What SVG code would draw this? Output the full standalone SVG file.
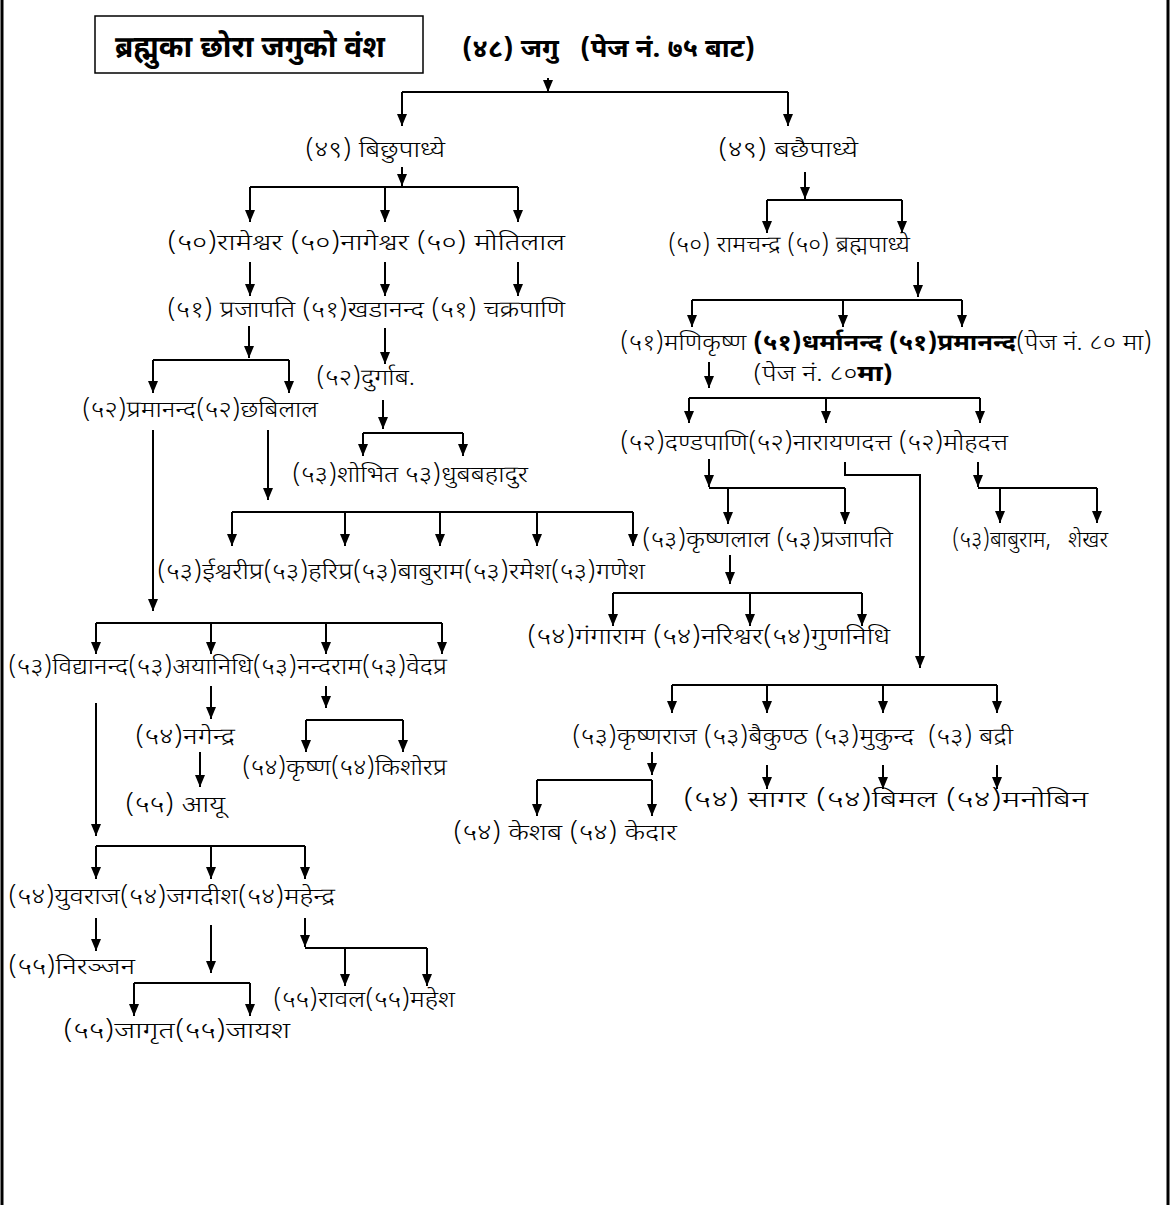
<svg xmlns="http://www.w3.org/2000/svg" width="1171" height="1205" viewBox="0 0 1171 1205">
<defs>
<marker id="ah" viewBox="0 0 12 10" refX="12" refY="5" markerWidth="12" markerHeight="10" markerUnits="userSpaceOnUse" orient="auto"><path d="M0,0 L12,5 L0,10 z" fill="#000"/></marker>
<style>
text{font-family:"Noto Sans Devanagari","Lohit Devanagari","Noto Sans",sans-serif;font-size:23px;font-weight:300;fill:#000;white-space:pre}
.b{font-weight:bold}
.t{font-size:30px;font-weight:bold}
.h{font-size:25px;font-weight:bold}
.s{font-size:22px}
.c{stroke:#000;stroke-width:2;fill:none}
.a{stroke:#000;stroke-width:2;fill:none;marker-end:url(#ah)}
</style>
</defs>
<rect width="1171" height="1205" fill="#fff"/>
<line x1="2" y1="0" x2="2" y2="1205" stroke="#000" stroke-width="3"/>
<line x1="1168" y1="0" x2="1168" y2="1205" stroke="#000" stroke-width="3"/>
<g id="title"><rect x="95" y="16" width="328" height="57" fill="none" stroke="#000" stroke-width="1.5"/><text class="t" x="115" y="57" textLength="270" lengthAdjust="spacingAndGlyphs">ब्रह्मुका छोरा जगुको वंश</text></g>
<g id="n48"><text class="h" x="462" y="57" textLength="293" lengthAdjust="spacingAndGlyphs">(४८) जगु   (पेज नं. ७५ बाट)</text></g>
<g id="n49a"><text x="305" y="157" textLength="140" lengthAdjust="spacingAndGlyphs">(४९) बिछुपाध्ये</text></g>
<g id="n49b"><text x="718" y="157" textLength="140" lengthAdjust="spacingAndGlyphs">(४९) बछैपाध्ये</text></g>
<g id="r50a"><text x="167" y="250" textLength="398" lengthAdjust="spacingAndGlyphs">(५०)रामेश्वर (५०)नागेश्वर (५०) मोतिलाल</text></g>
<g id="r51a"><text x="167" y="317" textLength="398" lengthAdjust="spacingAndGlyphs">(५१) प्रजापति (५१)खडानन्द (५१) चक्रपाणि</text></g>
<g id="n52d"><text x="316" y="385" textLength="99" lengthAdjust="spacingAndGlyphs">(५२)दुर्गाब.</text></g>
<g id="r52a"><text x="82" y="417" textLength="236" lengthAdjust="spacingAndGlyphs">(५२)प्रमानन्द(५२)छबिलाल</text></g>
<g id="r53s"><text x="292" y="482" textLength="236" lengthAdjust="spacingAndGlyphs">(५३)शोभित ५३)धुबबहादुर</text></g>
<g id="r53c"><text x="157" y="579" textLength="488" lengthAdjust="spacingAndGlyphs">(५३)ईश्वरीप्र(५३)हरिप्र(५३)बाबुराम(५३)रमेश(५३)गणेश</text></g>
<g id="r53p"><text x="8" y="674" textLength="439" lengthAdjust="spacingAndGlyphs">(५३)विद्यानन्द(५३)अयानिधि(५३)नन्दराम(५३)वेदप्र</text></g>
<g id="n54n"><text x="135" y="744" textLength="100" lengthAdjust="spacingAndGlyphs">(५४)नगेन्द्र</text></g>
<g id="r54k"><text x="242" y="775" textLength="205" lengthAdjust="spacingAndGlyphs">(५४)कृष्ण(५४)किशोरप्र</text></g>
<g id="n55a"><text x="125" y="812" textLength="100" lengthAdjust="spacingAndGlyphs">(५५) आयू</text></g>
<g id="r54y"><text x="8" y="904" textLength="327" lengthAdjust="spacingAndGlyphs">(५४)युवराज(५४)जगदीश(५४)महेन्द्र</text></g>
<g id="n55n"><text x="8" y="974" textLength="127" lengthAdjust="spacingAndGlyphs">(५५)निरञ्जन</text></g>
<g id="r55j"><text x="63" y="1038" textLength="227" lengthAdjust="spacingAndGlyphs">(५५)जागृत(५५)जायश</text></g>
<g id="r55r"><text x="273" y="1007" textLength="182" lengthAdjust="spacingAndGlyphs">(५५)रावल(५५)महेश</text></g>
<g id="r50b"><text x="668" y="252" textLength="242" lengthAdjust="spacingAndGlyphs">(५०) रामचन्द्र (५०) ब्रह्मपाध्ये</text></g>
<g id="r51b"><text x="620" y="350" textLength="532" lengthAdjust="spacingAndGlyphs">(५१)मणिकृष्ण <tspan class="b">(५१)धर्मानन्द (५१)प्रमानन्द</tspan>(पेज नं. ८० मा)</text></g>
<g id="n80"><text class="s" x="753" y="381" textLength="140" lengthAdjust="spacingAndGlyphs">(पेज नं. ८०<tspan class="b">मा)</tspan></text></g>
<g id="r52b"><text x="620" y="450" textLength="388" lengthAdjust="spacingAndGlyphs">(५२)दण्डपाणि(५२)नारायणदत्त (५२)मोहदत्त</text></g>
<g id="r53k"><text x="642" y="547" textLength="251" lengthAdjust="spacingAndGlyphs">(५३)कृष्णलाल (५३)प्रजापति</text></g>
<g id="r53b"><text x="952" y="547" textLength="156" lengthAdjust="spacingAndGlyphs">(५३)बाबुराम,   शेखर</text></g>
<g id="r54g"><text x="527" y="644" textLength="363" lengthAdjust="spacingAndGlyphs">(५४)गंगाराम (५४)नरिश्वर(५४)गुणनिधि</text></g>
<g id="r53r"><text x="572" y="744" textLength="441" lengthAdjust="spacingAndGlyphs">(५३)कृष्णराज (५३)बैकुण्ठ (५३)मुकुन्द  (५३) बद्री</text></g>
<g id="r54s"><text x="683" y="807" textLength="405" lengthAdjust="spacingAndGlyphs">(५४) सागर (५४)बिमल (५४)मनोबिन</text></g>
<g id="r54ke"><text x="453" y="840" textLength="224" lengthAdjust="spacingAndGlyphs">(५४) केशब (५४) केदार</text></g>
<g id="connectors">
<path class="a" d="M548,78 V92"/>
<path class="c" d="M402,92 H788"/>
<path class="a" d="M402,92 V126"/><path class="a" d="M788,92 V126"/>
<path class="a" d="M402,167 V186"/>
<path class="c" d="M250,187 H518"/>
<path class="a" d="M250,187 V222"/><path class="a" d="M385,187 V222"/><path class="a" d="M518,187 V222"/>
<path class="a" d="M250,262 V296"/><path class="a" d="M385,262 V296"/><path class="a" d="M518,262 V296"/>
<path class="a" d="M249,326 V358"/>
<path class="c" d="M153,360 H289"/>
<path class="a" d="M153,360 V393"/><path class="a" d="M289,360 V393"/>
<path class="a" d="M385,328 V364"/>
<path class="a" d="M383,400 V429"/>
<path class="c" d="M363,433 H463"/>
<path class="a" d="M363,433 V456"/><path class="a" d="M463,433 V456"/>
<path class="a" d="M268,430 V500"/>
<path class="c" d="M232,512 H633"/>
<path class="a" d="M232,512 V546"/><path class="a" d="M345,512 V546"/><path class="a" d="M440,512 V546"/><path class="a" d="M537,512 V546"/><path class="a" d="M633,512 V546"/>
<path class="a" d="M153,430 V611"/>
<path class="c" d="M96,623 H442"/>
<path class="a" d="M96,623 V654"/><path class="a" d="M211,623 V654"/><path class="a" d="M326,623 V654"/><path class="a" d="M442,623 V654"/>
<path class="a" d="M211,686 V719"/>
<path class="a" d="M326,686 V708"/>
<path class="c" d="M306,720 H403"/>
<path class="a" d="M306,720 V752"/><path class="a" d="M403,720 V752"/>
<path class="a" d="M200,752 V787"/>
<path class="a" d="M96,703 V836"/>
<path class="c" d="M96,846 H305"/>
<path class="a" d="M96,846 V879"/><path class="a" d="M211,846 V879"/><path class="a" d="M305,846 V879"/>
<path class="a" d="M96,918 V951"/>
<path class="a" d="M211,925 V973"/>
<path class="c" d="M134,983 H250"/>
<path class="a" d="M134,983 V1016"/><path class="a" d="M250,983 V1016"/>
<path class="a" d="M305,918 V947"/>
<path class="c" d="M305,948 H427"/>
<path class="a" d="M345,948 V986"/><path class="a" d="M427,948 V986"/>
<path class="a" d="M805,172 V199"/>
<path class="c" d="M767,200 H902"/>
<path class="a" d="M767,200 V233"/><path class="a" d="M902,200 V233"/>
<path class="a" d="M918,262 V297"/>
<path class="c" d="M692,300 H962"/>
<path class="a" d="M692,300 V327"/><path class="a" d="M843,300 V327"/><path class="a" d="M962,300 V327"/>
<path class="a" d="M709,362 V388"/>
<path class="c" d="M689,398 H980"/>
<path class="a" d="M689,398 V423"/><path class="a" d="M826,398 V423"/><path class="a" d="M980,398 V423"/>
<path class="a" d="M709,459 V487"/>
<path class="c" d="M709,488 H845"/>
<path class="a" d="M728,488 V524"/><path class="a" d="M845,488 V524"/>
<path class="a" d="M978,462 V487"/>
<path class="c" d="M978,488 H1097"/>
<path class="a" d="M1000,488 V523"/><path class="a" d="M1097,488 V523"/>
<path class="a" d="M845,462 V475 H920 V668"/>
<path class="c" d="M672,685 H997"/>
<path class="a" d="M672,685 V713"/><path class="a" d="M767,685 V713"/><path class="a" d="M883,685 V713"/><path class="a" d="M997,685 V713"/>
<path class="a" d="M730,555 V584"/>
<path class="c" d="M613,593 H862"/>
<path class="a" d="M613,593 V626"/><path class="a" d="M750,593 V626"/><path class="a" d="M862,593 V626"/>
<path class="a" d="M652,752 V775"/>
<path class="c" d="M537,780 H652"/>
<path class="a" d="M537,780 V816"/><path class="a" d="M652,780 V816"/>
<path class="a" d="M767,765 V789"/><path class="a" d="M883,765 V789"/><path class="a" d="M997,765 V789"/>
</g>
</svg>
